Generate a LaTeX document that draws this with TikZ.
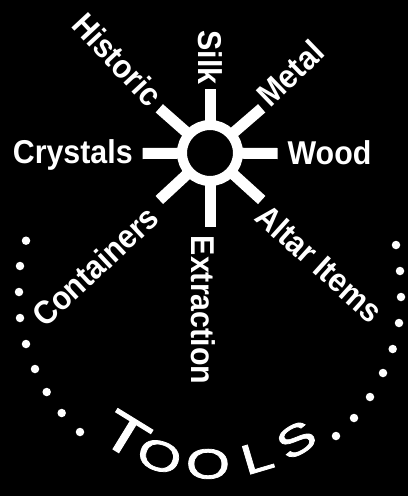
\documentclass[tikz,border=0pt]{standalone}
\usepackage{fontspec}
\setmainfont{Liberation Sans}
\newfontfamily\lblfont{Liberation Sans}[FakeStretch=0.92]
\newfontfamily\toolsfont{Liberation Sans}[FakeStretch=1.35, FakeBold=1.8]
\usetikzlibrary{calc}
\begin{document}
\begin{tikzpicture}[x=1pt,y=1pt,
  lbl/.style={text=white, font=\lblfont\bfseries\fontsize{33}{33}\selectfont, inner sep=0pt, outer sep=0pt, text height=24pt, text depth=0pt},
  spoke/.style={draw=white, line width=11pt},
  dotmark/.style={circle, fill=white, inner sep=0pt, minimum size=8.5pt},
  tl/.style={text=white, inner sep=0pt}]
\fill[black] (0,0) rectangle (408,-496);
\useasboundingbox (0,0) rectangle (408,-496);
% hub
\node[circle, draw=white, line width=10pt, minimum size=56pt, inner sep=0pt, outer sep=0pt] (hub) at (210,-153) {};
\coordinate (eN) at (210,-89);
\coordinate (eS) at (210,-227);
\coordinate (eW) at (142.7,-153.5);
\coordinate (eE) at (277.7,-153.5);
\coordinate (eNW) at (159.3,-108.3);
\coordinate (eNE) at (261.7,-108.3);
\coordinate (eSW) at (159.3,-200);
\coordinate (eSE) at (261.7,-200);
\foreach \e in {eN,eS,eW,eE,eNW,eNE,eSW,eSE}
  \draw[spoke] (hub) -- (\e);
% labels
\node[lbl, rotate=-47] (historic) at (118,-59.5) {Historic};
\node[lbl, rotate=-90] (silk) at (210.5,-57.5) {Silk};
\node[lbl, rotate=44] (metal) at (290,-73) {Metal};
\node[lbl] (crystals) at (72.8,-151.3) {Crystals};
\node[lbl] (wood) at (329.5,-152.3) {Wood};
\node[lbl, rotate=43] (containers) at (95,-266) {Containers};
\node[lbl, rotate=-90] (extraction) at (203,-310) {Extraction};
\node[lbl, rotate=-42] (altar) at (320,-263) {Altar Items};
% dots
\foreach \x/\y [count=\i] in {26/240.7, 20/266, 19/292, 20/318, 26/344, 35/369, 46.7/392, 61.7/413, 80/432,
  396/245, 400/271, 401/297, 399/323, 392.7/349, 383/373, 370/397, 354/418, 336/436}
  \node[dotmark] (d\i) at (\x,-\y) {};
% TOOLS
\coordinate (arcc) at (210,-298);
\foreach \ch/\a/\r/\fs [count=\i] in {T/238.4/161/54, O/252.3/166/42, O/269.3/166/42, L/286.5/166/42, S/301.3/166/42}
  \node[tl, rotate=\a-270, font=\toolsfont\fontsize{\fs}{\fs}\selectfont] (t\i) at ($(arcc)+(\a:\r)$) {\ch};
\end{tikzpicture}
\end{document}
